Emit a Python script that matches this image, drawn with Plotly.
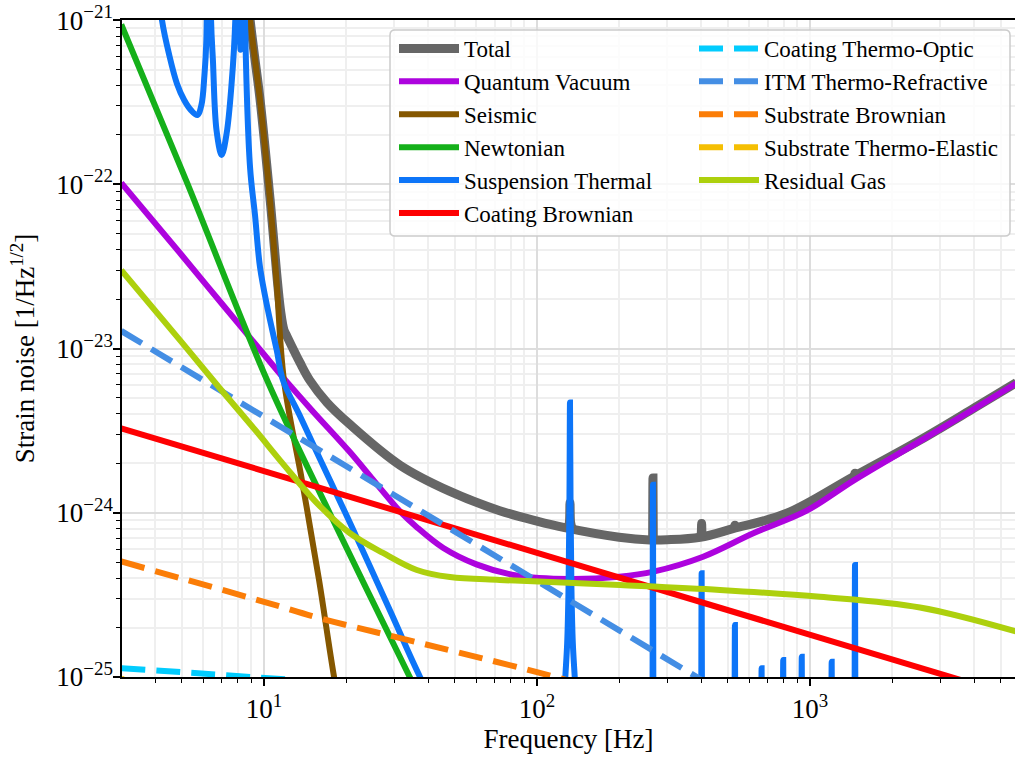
import plotly.graph_objects as go

# ---------------- data ----------------
# Total: smooth part and the narrow resonance peaks
f_total = [8.3, 8.89, 9.27, 9.67, 10.52, 11.13, 11.5, 11.83, 12.1, 13.55, 14.72, 17.0, 20.65, 31.5, 48,
           73, 100, 125, 200, 259, 300, 396, 522, 822, 1443, 2529, 4000, 5700]
total = [3.0e-21, 1.01e-21, 5.75e-22, 3.3e-22, 8.2e-23, 2.87e-23, 1.7e-23, 1.3e-23, 1.2e-23, 8.2e-24,
         6.4e-24, 4.7e-24, 3.45e-24, 1.95e-24, 1.35e-24, 1.03e-24, 8.9e-25, 8.15e-25, 7.1e-25, 6.83e-25,
         6.85e-25, 7.1e-25, 8.0e-25, 9.93e-25, 1.66e-24, 2.77e-24, 4.35e-24, 6.2e-24]
f_total_peaks = [129, 130.5, 131.5, 132.1, 132.7, 133.7, 135, None,
                 265.3, 266, 266.7, None, 398.5, 400, 401, 402, 403.5, None,
                 529.5, 531, 532.5, None, 1455, 1462, 1469]
total_peaks = [8.1e-25, 8.3e-25, 8.8e-25, 1.15e-24, 8.8e-25, 8.3e-25, 8.0e-25, None,
               6.83e-25, 1.63e-24, 6.83e-25, None, 7.12e-25, 7.6e-25, 8.6e-25, 7.6e-25, 7.12e-25, None,
               8.05e-25, 8.4e-25, 8.05e-25, None, 1.66e-24, 1.74e-24, 1.66e-24]

f_qv = [3, 5, 7, 10, 12, 15, 20.6, 25, 28.9, 31.5, 36.2, 45.4, 60, 84, 132, 200, 267, 406, 620, 973,
        1443, 2529, 4000, 5700]
quantum = [1.02e-22, 3.7e-23, 1.88e-23, 9.2e-24, 6.4e-24, 4.2e-24, 2.35e-24, 1.6e-24, 1.2e-24, 1.02e-24,
           8.2e-25, 6.1e-25, 4.85e-25, 4.15e-25, 3.95e-25, 4.08e-25, 4.38e-25, 5.4e-25, 7.5e-25, 1.03e-24,
           1.57e-24, 2.73e-24, 4.3e-24, 6.15e-24]

f_seis = [8.3, 8.89, 9.67, 10.52, 11.13, 11.83, 13.77, 15.91, 18.06, 20]
seismic = [3.0e-21, 1.0e-21, 3.26e-22, 8.0e-23, 2.51e-23, 6.43e-24, 1.58e-24, 3.9e-25, 1.0e-25, 4.0e-26]

f_nn = [3, 5.23, 10.26, 17.9, 34.2, 50]
newtonian = [9.4e-22, 1.02e-22, 6.43e-24, 9.04e-25, 1.0e-25, 2.7e-26]

# Suspension thermal: low-frequency part and violin-mode peaks
f_st = [4.0, 4.23, 4.5, 4.8, 5.1, 5.4, 5.7, 5.9, 6.05, 6.15, 6.25, 6.4, 6.5, 6.7, 7.0, 7.3, 7.6, 7.85,
        8.0, 8.2, 8.35, 8.52, 8.89, 9.27, 9.67, 10.34, 11.13, 11.74, 13.55, 16.05, 20.65, 29.0, 37.3, 50]
susp_thermal = [2.5e-21, 1.0e-21, 6.1e-22, 4.1e-22, 3.26e-22, 2.83e-22, 2.64e-22, 3.04e-22, 4.6e-22, 7.5e-22,
                1e-19, 1.0e-21, 5.7e-22, 2.14e-22, 1.51e-22, 2.05e-22, 4.0e-22, 1.0e-21,
                1e-19, 6.6e-22, 1e-19, 1.0e-21, 1.27e-22, 6.5e-23, 3.13e-23, 1.71e-23, 9.8e-24, 6.4e-24,
                3.88e-24, 2.12e-24, 8.7e-25, 2.52e-25, 1.0e-25, 4.0e-26]
f_st_peaks = [125, 127, 129, 130.5, 131.5, 132.1, 132.7, 133.7, 135.3, 137.5, 140, None,
              264.9, 266, 267.1, None, 399.4, 401, 402.6, None, 528.9, 531, 533.1, None,
              662.3, 665, 667.7, None, 794.8, 798, 801.2, None, 929.3, 933, 936.7, None,
              1196.2, 1201, 1205.8, None, 1456.1, 1462, 1467.9]
susp_thermal_peaks = [6e-26, 1.0e-25, 1.6e-25, 3.5e-25, 1.2e-24, 4.7e-24, 1.2e-24, 3.5e-25, 1.6e-25, 1.0e-25,
                      6e-26, None,
                      3e-26, 1.48e-24, 3e-26, None, 3e-26, 4.28e-25, 3e-26, None, 3e-26, 2.07e-25, 3e-26, None,
                      3e-26, 1.13e-25, 3e-26, None, 3e-26, 1.27e-25, 3e-26, None, 3e-26, 1.33e-25, 3e-26, None,
                      3e-26, 1.24e-25, 3e-26, None, 3e-26, 4.8e-25, 3e-26]

f_cb = [3, 10, 100, 1000, 6000]
coating_brownian = [3.27e-24, 1.8e-24, 5.7e-25, 1.82e-25, 7.4e-26]

f_cto = [3, 9, 20, 100]
coating_thermo_optic = [1.13e-25, 1.0e-25, 9.0e-26, 6.0e-26]

f_itm = [3, 10, 30, 100, 300, 1000]
itm_thermo_refractive = [1.28e-23, 3.85e-24, 1.28e-24, 3.85e-25, 1.28e-25, 3.85e-26]

f_sb = [3, 10, 16, 30, 100, 300]
substrate_brownian = [5.05e-25, 2.87e-25, 2.28e-25, 1.76e-25, 1.07e-25, 6.5e-26]

f_ste = [3, 10, 100]
substrate_thermo_elastic = [9.8e-26, 3.5e-26, 5.0e-27]

f_gas = [3, 5, 7, 9.27, 11.7, 15.6, 20.6, 27.3, 36.3, 48, 73, 112, 201, 468, 1088, 2529, 5700]
residual_gas = [3.0e-23, 1.09e-23, 5.55e-24, 3.2e-24, 2.0e-24, 1.15e-24, 7.53e-25, 5.69e-25, 4.48e-25,
                4.06e-25, 3.9e-25, 3.79e-25, 3.63e-25, 3.39e-25, 3.08e-25, 2.65e-25, 1.89e-25]

# axis ticks
x_tickvals = [10, 100, 1000]
x_ticktext = ["10<sup>1</sup>", "10<sup>2</sup>", "10<sup>3</sup>"]
y_tickvals = [1e-25, 1e-24, 1e-23, 1e-22, 1e-21]
y_ticktext = ["10<sup>\u221225</sup>", "10<sup>\u221224</sup>", "10<sup>\u221223</sup>",
              "10<sup>\u221222</sup>", "10<sup>\u221221</sup>"]

# ---------------- styling ----------------
FONT = "Liberation Serif"
LW = 6
DASH = "24px,11px"

series = [
    # name, x, y, color, width, dash, legend, shape, showlegend
    ("Total", f_total, total, "#666666", 9, "solid", "legend", "spline", True),
    ("Total", f_total_peaks, total_peaks, "#666666", 9, "solid", "legend", "spline", False),
    ("Quantum Vacuum", f_qv, quantum, "#ad03de", LW, "solid", "legend", "spline", True),
    ("Seismic", f_seis, seismic, "#855700", LW, "solid", "legend", "spline", True),
    ("Newtonian", f_nn, newtonian, "#15b01a", LW, "solid", "legend", "spline", True),
    ("Suspension Thermal", f_st, susp_thermal, "#0d75f8", LW, "solid", "legend", "spline", True),
    ("Suspension Thermal", f_st_peaks, susp_thermal_peaks, "#0d75f8", LW, "solid", "legend", "spline", False),
    ("Coating Brownian", f_cb, coating_brownian, "#fe0002", LW, "solid", "legend", "linear", True),
    ("Coating Thermo-Optic", f_cto, coating_thermo_optic, "#02ccfe", LW, DASH, "legend2", "spline", True),
    ("ITM Thermo-Refractive", f_itm, itm_thermo_refractive, "#448ee4", LW, DASH, "legend2", "linear", True),
    ("Substrate Brownian", f_sb, substrate_brownian, "#fb7d07", LW, DASH, "legend2", "spline", True),
    ("Substrate Thermo-Elastic", f_ste, substrate_thermo_elastic, "#f5bf03", LW, DASH, "legend2", "spline", True),
    ("Residual Gas", f_gas, residual_gas, "#add00d", LW, "solid", "legend2", "spline", True),
]

fig = go.Figure()
for name, x, y, color, width, dash, leg, shape, show in series:
    fig.add_trace(go.Scatter(
        x=x, y=y, mode="lines", name=name, legend=leg, showlegend=show, connectgaps=False,
        line=dict(color=color, width=width, dash=dash, shape=shape, smoothing=1.0),
    ))

axis_common = dict(
    type="log", tickmode="array", automargin=False,
    showline=True, linecolor="black", linewidth=1.5,
    ticks="outside", ticklen=7, tickwidth=1.5, tickcolor="black",
    showgrid=True, gridcolor="#dddddd", gridwidth=2, zeroline=False,
    minor=dict(ticks="outside", ticklen=4, tickwidth=1, tickcolor="black", dtick="D1",
               showgrid=True, gridcolor="#efefef", gridwidth=1.5),
    tickfont=dict(family=FONT, size=27, color="black"),
)

fig.update_xaxes(range=[0.4799, 3.751], mirror=True, tickvals=x_tickvals, ticktext=x_ticktext,
                 title=dict(text="Frequency [Hz]", font=dict(family=FONT, size=27), standoff=0),
                 **axis_common)
fig.update_yaxes(range=[-25.0, -20.9995], tickvals=y_tickvals, ticktext=y_ticktext, ticklabelstandoff=-5,
                 title=dict(text="Strain noise [1/Hz<sup>1/2</sup>]", font=dict(family=FONT, size=27), standoff=14),
                 **axis_common)

# legend frame (paper coordinates)
x0, x1 = (390 - 122) / 893, (1010 - 122) / 893
y0, y1 = (677 - 236) / 657, (677 - 30) / 657
rx, ry = 5 / 893, 5 / 657
path = (f"M {x0+rx},{y1} L {x1-rx},{y1} Q {x1},{y1} {x1},{y1-ry} L {x1},{y0+ry} "
        f"Q {x1},{y0} {x1-rx},{y0} L {x0+rx},{y0} Q {x0},{y0} {x0},{y0+ry} "
        f"L {x0},{y1-ry} Q {x0},{y1} {x0+rx},{y1} Z")
fig.add_shape(type="path", path=path, xref="paper", yref="paper", layer="above",
              fillcolor="rgba(255,255,255,0.8)", line=dict(color="#cccccc", width=1.5))

leg_common = dict(bgcolor="rgba(0,0,0,0)", borderwidth=0, font=dict(family=FONT, size=23, color="black"),
                  xanchor="left", yanchor="top", tracegroupgap=0, itemwidth=60)

fig.update_layout(
    width=1015, height=761,
    margin=dict(l=122, r=0, t=20, b=84),
    paper_bgcolor="white", plot_bgcolor="white",
    font=dict(family=FONT, size=27, color="black"),
    legend=dict(x=(394 - 122) / 893, y=(677 - 27) / 657, **leg_common),
    legend2=dict(x=(694 - 122) / 893, y=(677 - 27) / 657, **leg_common),
)

fig.write_html("out.html", config={"displayModeBar": False},
               post_script="document.body.style.margin='0';document.body.style.overflow='hidden';")
